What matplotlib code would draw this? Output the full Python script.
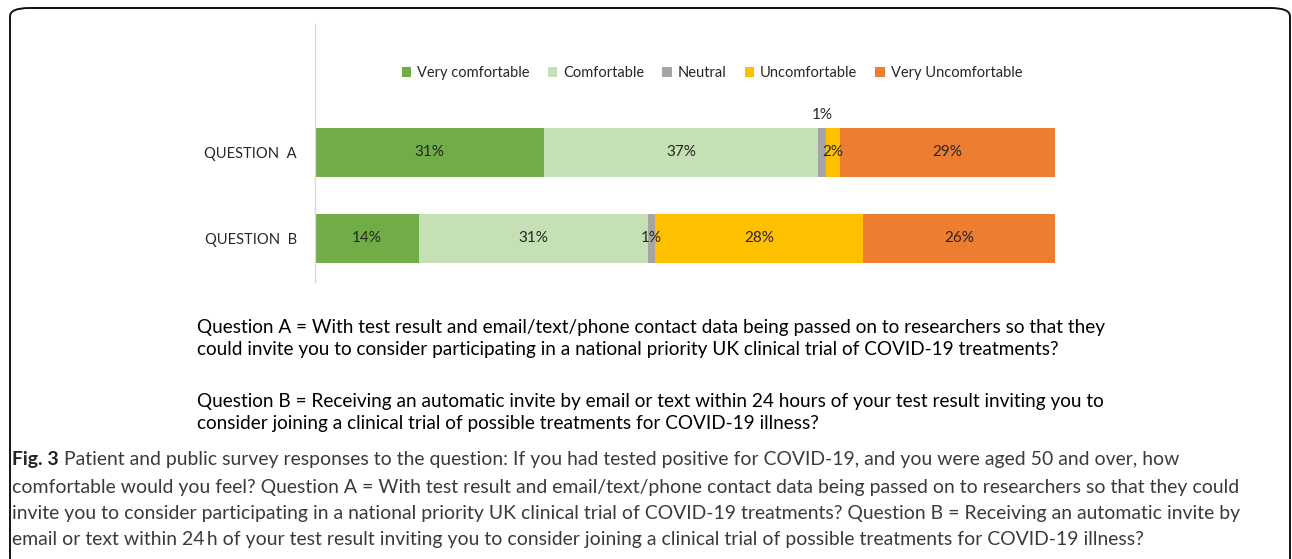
import matplotlib
matplotlib.use("Agg")
import matplotlib.pyplot as plt
from matplotlib.patches import FancyBboxPatch
from matplotlib.font_manager import FontProperties
import numpy as np

categories = ["QUESTION B", "QUESTION A"]
series_names = ["Very comfortable", "Comfortable", "Neutral", "Uncomfortable", "Very Uncomfortable"]
very_comfortable = [14, 31]
comfortable = [31, 37]
neutral = [1, 1]
uncomfortable = [28, 2]
very_uncomfortable = [26, 29]
colors = ["#70AD47", "#C5E0B4", "#A5A5A5", "#FFC000", "#ED7D31"]

question_lines = [
    "Question A = With test result and email/text/phone contact data being passed on to researchers so that they",
    "could invite you to consider participating in a national priority UK clinical trial of COVID-19 treatments?",
    "Question B = Receiving an automatic invite by email or text within 24 hours of your test result inviting you to",
    "consider joining a clinical trial of possible treatments for COVID-19 illness?",
]
caption_lines = [
    " Patient and public survey responses to the question: If you had tested positive for COVID-19, and you were aged 50 and over, how",
    "comfortable would you feel? Question A = With test result and email/text/phone contact data being passed on to researchers so that they could",
    "invite you to consider participating in a national priority UK clinical trial of COVID-19 treatments? Question B = Receiving an automatic invite by",
    "email or text within 24\u2009h of your test result inviting you to consider joining a clinical trial of possible treatments for COVID-19 illness?",
]

W, H = 1292, 559
fig = plt.figure(figsize=(W / 100, H / 100), dpi=100)
FONT = "Lato"

# outer rounded box
box = FancyBboxPatch((10 / W, -0.2), (1280 / W), 1.2 - 8 / H,
                     boxstyle="round,pad=0,rounding_size=0.015",
                     transform=fig.transFigure, fill=False, ec="#111111", lw=1.4)
fig.patches.append(box)

ax = fig.add_axes([315 / W, 1 - 282 / H, (1055 - 315) / W, (282 - 24) / H])
data = [very_comfortable, comfortable, neutral, uncomfortable, very_uncomfortable]
y = np.arange(len(categories))
left = np.zeros(len(categories))
bar_h = 49 / 86
handles = []
for name, vals, c in zip(series_names, data, colors):
    vals = np.array(vals, dtype=float)
    b = ax.barh(y, vals, left=left, height=bar_h, color=c, label=name, linewidth=0)
    handles.append(b)
    for yi, (l, v) in enumerate(zip(left, vals)):
        txt = f"{int(v)}%"
        if name == "Neutral" and categories[yi] == "QUESTION A":
            ax.text(l + v / 2, yi + bar_h / 2 + 0.07, txt, ha="center", va="bottom",
                    fontsize=11, family=FONT, color="#262626")
        else:
            ax.text(l + v / 2, yi, txt, ha="center", va="center",
                    fontsize=11, family=FONT, color="#262626")
    left += vals

ax.set_xlim(0, 100)
ax.set_ylim(-43.5 / 86, 1 + 128.5 / 86)
ax.set_xticks([])
ax.set_yticks(y)
ax.set_yticklabels(["QUESTION  B", "QUESTION  A"])
for lab in ax.get_yticklabels():
    lab.set_fontproperties(FontProperties(family=FONT, size=10.6))
    lab.set_color("#262626")
ax.tick_params(axis="y", length=0, pad=13)
for s in ["top", "right", "bottom"]:
    ax.spines[s].set_visible(False)
ax.spines["left"].set_color("#D9D9D9")
ax.spines["left"].set_linewidth(1.0)

leg = fig.legend(handles=handles, labels=series_names, loc="center",
                 bbox_to_anchor=(712 / W, 1 - 73 / H), ncol=5, frameon=False,
                 prop={"family": FONT, "size": 10.5}, handlelength=0.65, handleheight=0.65,
                 handletextpad=0.4, columnspacing=1.25)
for t in leg.get_texts():
    t.set_color("#262626")

# question descriptions
qy = [327, 349, 401, 424]
for txt, yy in zip(question_lines, qy):
    fig.text(197 / W, 1 - yy / H, txt, ha="left", va="center", family=FONT,
             fontsize=13.65, color="#000000")

# caption
cy = [460, 487, 513, 540]
fig.canvas.draw()
r = fig.canvas.get_renderer()
t0 = fig.text(12 / W, 1 - cy[0] / H, "Fig. 3", ha="left", va="center", family=FONT,
              fontsize=13.95, fontweight="bold", color="#222222")
bb = t0.get_window_extent(renderer=r)
fig.text(bb.x1 / W, 1 - cy[0] / H, caption_lines[0], ha="left", va="center", family=FONT,
         fontsize=13.95, color="#3a3a3a")
for txt, yy in zip(caption_lines[1:], cy[1:]):
    fig.text(12 / W, 1 - yy / H, txt, ha="left", va="center", family=FONT,
             fontsize=13.95, color="#3a3a3a")

fig.savefig("out.png", dpi=100)
